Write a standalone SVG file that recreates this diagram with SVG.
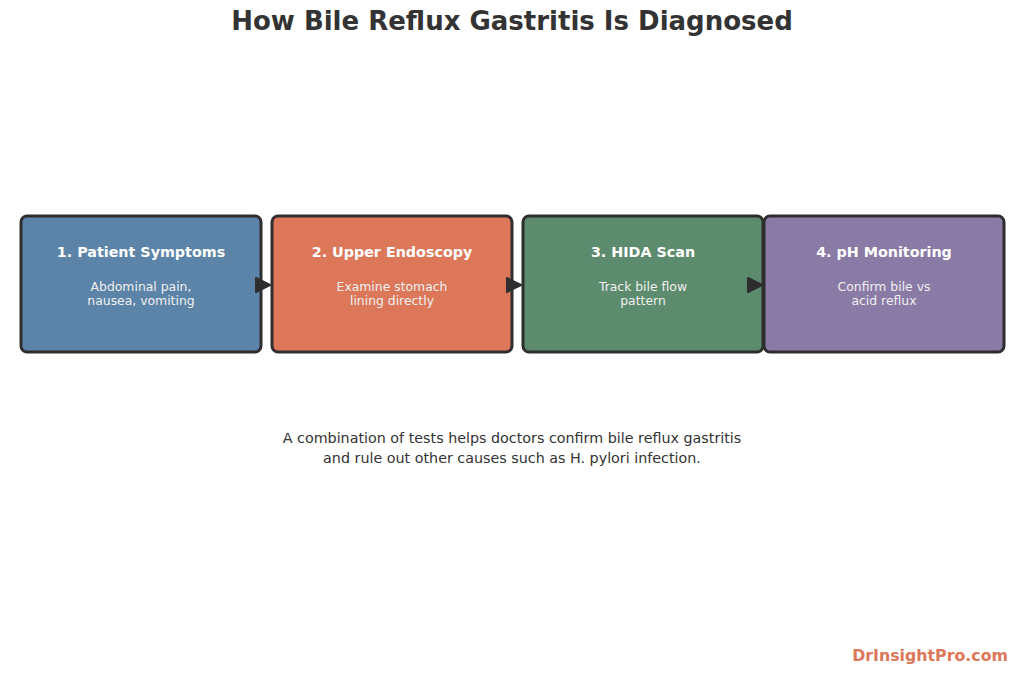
<svg xmlns="http://www.w3.org/2000/svg" width="1024" height="675" viewBox="0 0 1024 675">
<style>
.box{stroke:#2e2e2e;stroke-width:3}
.t{font-family:"DejaVu Sans",sans-serif;font-weight:bold;font-size:14.3px;fill:#ffffff;text-anchor:middle}
.s{font-family:"DejaVu Sans",sans-serif;font-size:12.4px;fill:#f0f0f0;text-anchor:middle}
.arr{fill:#2e2e2e;stroke:#2e2e2e;stroke-width:2;stroke-linejoin:round}
</style>
<rect width="1024" height="675" fill="#ffffff"/>
<text x="512" y="30" font-family="DejaVu Sans, sans-serif" font-weight="bold" font-size="26" fill="#333333" text-anchor="middle">How Bile Reflux Gastritis Is Diagnosed</text>
<g id="node1">
<rect class="box" x="21" y="216" width="240" height="136" rx="6" fill="#5b84a8"/>
<text class="t" x="141" y="257">1. Patient Symptoms</text>
<text class="s" x="141" y="291">Abdominal pain,</text>
<text class="s" x="141" y="305">nausea, vomiting</text>
</g>
<g id="node2">
<rect class="box" x="272" y="216" width="240" height="136" rx="6" fill="#dc7859"/>
<text class="t" x="392" y="257">2. Upper Endoscopy</text>
<text class="s" x="392" y="291">Examine stomach</text>
<text class="s" x="392" y="305">lining directly</text>
</g>
<g id="node3">
<rect class="box" x="523" y="216" width="240" height="136" rx="6" fill="#5d8b6d"/>
<text class="t" x="643" y="257">3. HIDA Scan</text>
<text class="s" x="643" y="291">Track bile flow</text>
<text class="s" x="643" y="305">pattern</text>
</g>
<g id="node4">
<rect class="box" x="764" y="216" width="240" height="136" rx="6" fill="#8a7aa6"/>
<text class="t" x="884" y="257">4. pH Monitoring</text>
<text class="s" x="884" y="291">Confirm bile vs</text>
<text class="s" x="884" y="305">acid reflux</text>
</g>
<g id="connectors">
<path class="arr" d="M256,278 L270,285 L256,292 Z"/>
<path class="arr" d="M507,278 L521,285 L507,292 Z"/>
<path class="arr" d="M748,278 L762,285 L748,292 Z"/>
</g>
<text x="512" y="443" font-family="DejaVu Sans, sans-serif" font-size="14.3" fill="#333333" text-anchor="middle">A combination of tests helps doctors confirm bile reflux gastritis</text>
<text x="512" y="463" font-family="DejaVu Sans, sans-serif" font-size="14.3" fill="#333333" text-anchor="middle">and rule out other causes such as H. pylori infection.</text>
<text x="1008" y="661" font-family="DejaVu Sans, sans-serif" font-weight="bold" font-size="15.8" fill="#dc7859" text-anchor="end">DrInsightPro.com</text>
</svg>
